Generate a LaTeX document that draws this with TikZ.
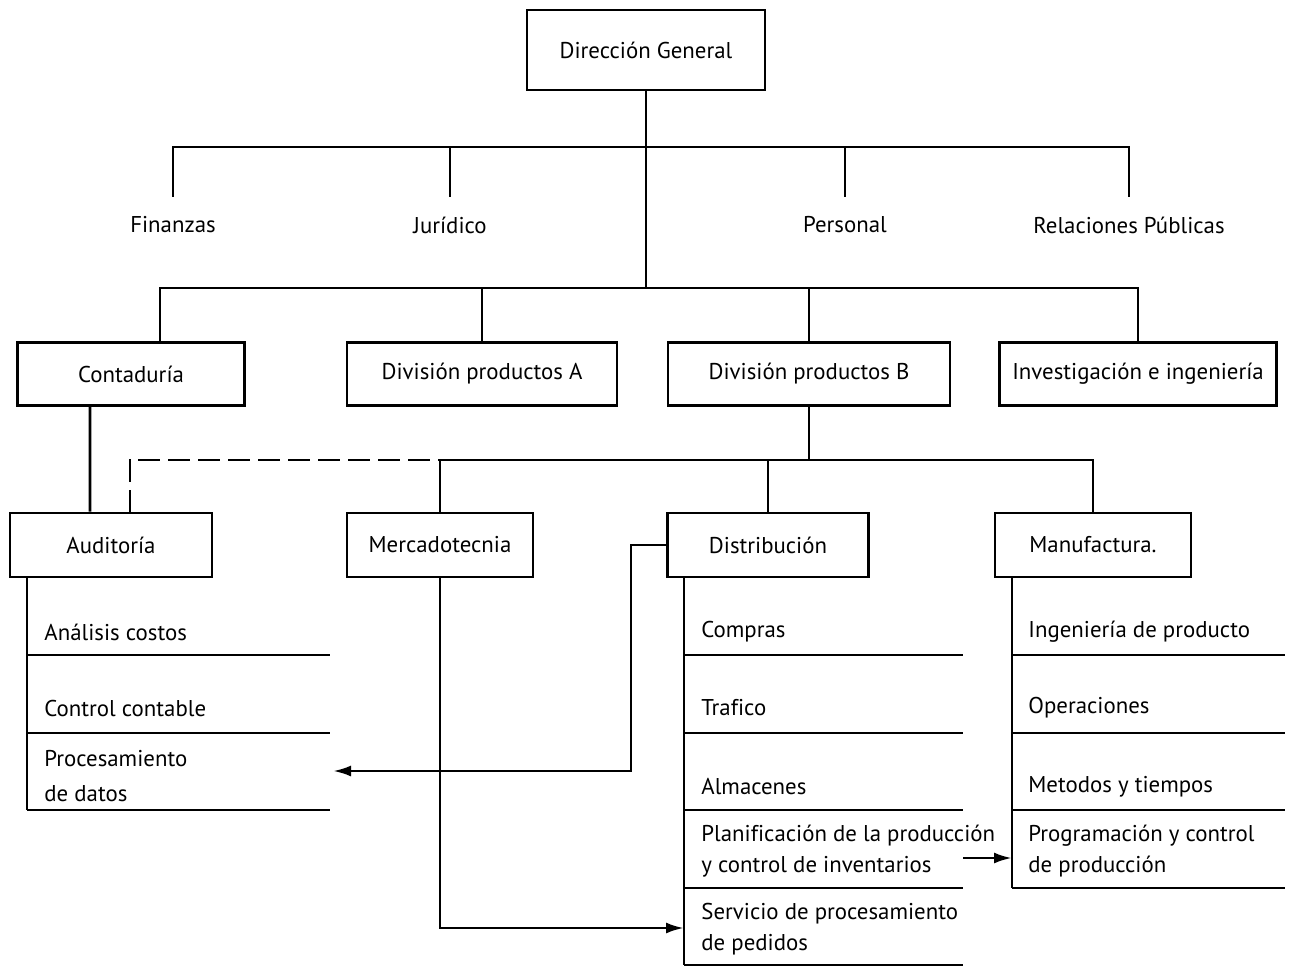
\documentclass[tikz,border=0pt]{standalone}
\usepackage{fontspec}
\setmainfont{PT Sans}[Ligatures=NoCommon]
\usetikzlibrary{arrows.meta}

\begin{document}
\begin{tikzpicture}[x=0.2mm,y=-0.2mm,line width=1.6pt,font=\fontsize{13}{18}\selectfont,
	unit/.style={draw,rectangle,inner sep=0pt,minimum width=#1},
	staff/.style={inner sep=0pt,minimum height=10.8mm},
	item/.style={anchor=west,inner sep=0pt,align=left},
	link/.style={-{Latex[length=3.6mm,width=2.2mm]}}]

	\path[use as bounding box,fill=white] (0,0) rectangle (1291,967);

	% dirección y staff
	\node[unit=47.6mm,minimum height=16mm] (dg) at (646,50) {Dirección General};
	\node[staff] (fin) at (173,225) {Finanzas};
	\node[staff] (jur) at (450,225) {Jurídico};
	\node[staff] (per) at (845,225) {Personal};
	\node[staff] (rp) at (1129,225) {Relaciones Públicas};

	% divisiones
	\node[unit=45.4mm,minimum height=12.6mm] (cont) at (131,374) {Contaduría};
	\node[unit=54mm,minimum height=12.6mm] (diva) at (482,374) {División productos A};
	\node[unit=56.4mm,minimum height=12.6mm] (divb) at (809,374) {División productos B};
	\node[unit=55.4mm,minimum height=12.6mm] (inv) at (1138,374) {Investigación e ingeniería};

	\node[unit=40.4mm,minimum height=12.8mm] (aud) at (111,545) {Auditoría};
	\node[unit=37.2mm,minimum height=12.8mm] (merc) at (440,545) {Mercadotecnia};
	\node[unit=40.2mm,minimum height=12.8mm] (dist) at (768,545) {Distribución};
	\node[unit=39.2mm,minimum height=12.8mm] (manu) at (1093,545) {Manufactura.};

	\coordinate (b1) at (0,147);
	\coordinate (b2) at (0,288);
	\coordinate (b3) at (0,460);

	\draw (dg.south) -- (dg.south |- b2);
	\draw (fin.north) -- (fin.north |- b1) -- (rp.north |- b1) -- (rp.north);
	\draw (jur.north) -- (jur.north |- b1);
	\draw (per.north) -- (per.north |- b1);

	\draw ([xshift=5.8mm]cont.north) |- (inv.north |- b2) -- (inv.north);
	\draw (diva.north) -- (diva.north |- b2);
	\draw (divb.north) -- (divb.north |- b2);

	\draw (divb.south) -- (divb.south |- b3);
	\draw (merc.north) |- (manu.north |- b3) -- (manu.north);
	\draw (dist.north) -- (dist.north |- b3);
	\draw[dashed,dash pattern=on 4.4mm off 1.6mm] ([xshift=3.8mm]aud.north) |- (merc.north |- b3);
	\draw ([xshift=-8.2mm]cont.south) -- ([xshift=-4.2mm]aud.north);

	% listas de funciones
	\draw (27,577) -- (27,810);
	\foreach \y in {655,733,810} \draw (27,\y) -- (330,\y);
	\draw (684,577) -- (684,965);
	\foreach \y in {655,733,810,888,965} \draw (684,\y) -- (963,\y);
	\draw (1012,577) -- (1012,888);
	\foreach \y in {655,733,810,888} \draw (1012,\y) -- (1285,\y);

	\node[item] (ac) at (43,632) {Análisis costos};
	\node[item] (cc) at (43,708) {Control contable};
	\node[item] (pd) at (43,776) {Procesamiento\\[2pt]de datos};

	\node[item] (com) at (700,632) {Compras};
	\node[item] (tra) at (700,708) {Trafico};
	\node[item] (alm) at (700,787) {Almacenes};
	\node[item] (pl) at (700,851) {Planificación de la producción\\y control de inventarios};
	\node[item] (sp) at (700,929) {Servicio de procesamiento\\de pedidos};

	\node[item] (ip) at (1027,632) {Ingeniería de producto};
	\node[item] (op) at (1027,708) {Operaciones};
	\node[item] (mt) at (1027,787) {Metodos y tiempos};
	\node[item] (pc) at (1027,851) {Programación y control\\de producción};

	\coordinate (pdin) at (333,771);
	\coordinate (spin) at (684,928);
	\coordinate (plout) at (963,858);
	\coordinate (pcin) at (1012,858);

	\draw[link] (dist.west) -| (631,771) -- (pdin);
	\draw[link] (merc.south) |- (spin);
	\draw[link] (plout) -- (pcin);

\end{tikzpicture}
\end{document}
